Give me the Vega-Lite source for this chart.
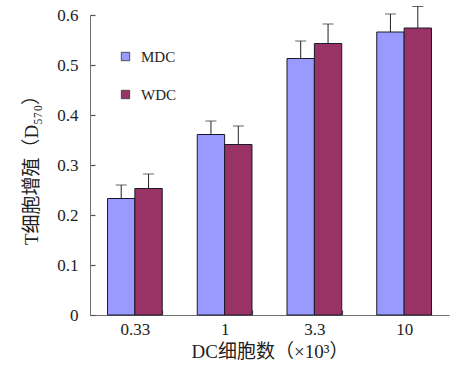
{
  "$schema": "https://vega.github.io/schema/vega-lite/v6.json",
  "autosize": "none",
  "width": 359,
  "height": 300,
  "padding": {"left": 90, "top": 15, "right": 10, "bottom": 61},
  "background": "white",
  "config": {
    "font": "Liberation Serif, Noto Sans CJK SC",
    "view": {"stroke": null},
    "axis": {"domainColor": "#707070", "tickColor": "#505050", "tickWidth": 1.2, "labelColor": "#222", "titleColor": "#222", "labelFont": "Liberation Serif", "labelFontSize": 17, "titleFont": "Liberation Serif, Noto Sans CJK SC", "titleFontSize": 19, "titleFontWeight": "normal", "grid": false}
  },
  "data": {
    "values": [
      {"dose": "0.33", "group": "MDC", "value": 0.233, "upper": 0.26},
      {"dose": "0.33", "group": "WDC", "value": 0.253, "upper": 0.282},
      {"dose": "1", "group": "MDC", "value": 0.361, "upper": 0.388},
      {"dose": "1", "group": "WDC", "value": 0.341, "upper": 0.378},
      {"dose": "3.3", "group": "MDC", "value": 0.513, "upper": 0.548},
      {"dose": "3.3", "group": "WDC", "value": 0.543, "upper": 0.582},
      {"dose": "10", "group": "MDC", "value": 0.566, "upper": 0.602},
      {"dose": "10", "group": "WDC", "value": 0.574, "upper": 0.617}
    ]
  },
  "encoding": {
    "x": {"field": "dose", "type": "nominal", "sort": ["0.33", "1", "3.3", "10"], "scale": {"paddingInner": 0.39, "paddingOuter": 0.195}, "axis": {"title": "DC细胞数（×10³）", "labelAngle": 0, "tickBand": "extent", "tickSize": -5, "labelPadding": 11, "titlePadding": 5}},
    "xOffset": {"field": "group", "type": "nominal", "scale": {"padding": 0}}
  },
  "layer": [
    {
      "mark": {"type": "bar", "stroke": "#1a1a2a", "strokeWidth": 1},
      "encoding": {
        "y": {"field": "value", "type": "quantitative", "scale": {"domain": [0, 0.6]}, "axis": {"values": [0, 0.1, 0.2, 0.3, 0.4, 0.5, 0.6], "format": "~g", "tickSize": -5, "labelPadding": 17, "title": "T细胞增殖（D₅₇₀）", "titlePadding": 15}},
        "color": {"field": "group", "type": "nominal", "scale": {"domain": ["MDC", "WDC"], "range": ["#9999ff", "#993366"]}, "legend": {"title": null, "orient": "none", "legendX": 28, "legendY": 34, "symbolType": "square", "symbolSize": 70, "symbolStrokeColor": "#333", "symbolStrokeWidth": 0.8, "labelFont": "Liberation Serif", "labelFontSize": 15, "labelColor": "#222", "rowPadding": 22, "labelOffset": 8}}
      }
    },
    {
      "mark": {"type": "rule", "color": "#222", "strokeWidth": 1},
      "encoding": {
        "y": {"field": "value", "type": "quantitative"},
        "y2": {"field": "upper"}
      }
    },
    {
      "mark": {"type": "tick", "color": "#222", "thickness": 1, "size": 11},
      "encoding": {
        "y": {"field": "upper", "type": "quantitative"}
      }
    }
  ]
}
